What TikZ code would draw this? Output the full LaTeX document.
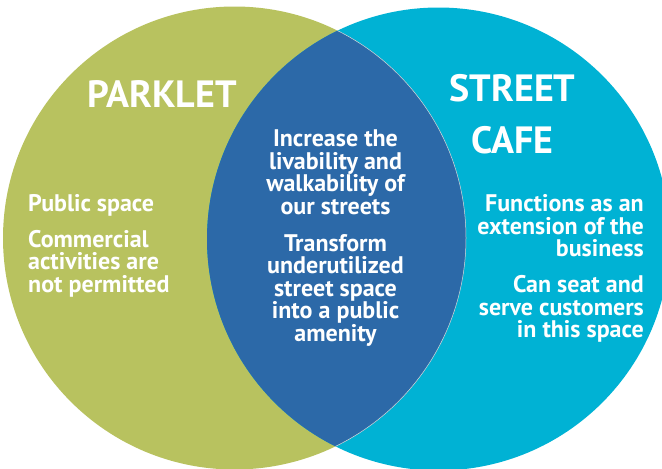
\documentclass[tikz,border=0pt]{standalone}
\usepackage{fontspec}
\setmainfont{PT Sans}
\definecolor{parkgreen}{HTML}{B8C25F}
\definecolor{cafecyan}{HTML}{00B2D4}
\definecolor{sharedblue}{HTML}{2C69A8}
\newcommand\tightlines{\lineskiplimit=-100pt\relax}
\begin{document}
\begin{tikzpicture}[x=1pt, y=-1pt, text=white, inner sep=0pt,
    settitle/.style={font=\fontsize{38}{52}\selectfont\bfseries\tightlines, align=center},
    setbody/.style={font=\fontsize{24}{22.5}\selectfont\bfseries\tightlines}]
  \useasboundingbox (0,0) rectangle (662,469);
  % the two sets
  \fill[parkgreen] (234.5,238) circle (231.5);
  \fill[cafecyan] (438.5,239) circle (231.5);
  % overlap
  \begin{scope}
    \clip (234.5,238) circle (231.5);
    \fill[sharedblue] (438.5,239) circle (231.5);
  \end{scope}
  \begin{scope}
    \clip (438.5,239) circle (231.5);
    \draw[white!70!gray, line width=0.5pt] (234.5,238) circle (231.5);
  \end{scope}
  % titles
  \node[settitle, anchor=north] (parklet) at (162,80.5) {PARKLET};
  \node[settitle, anchor=north] (streetcafe) at (512.5,74.5) {STREET\\CAFE};
  % texts
  \node[setbody, align=left, anchor=north west] (parkletnotes) at (28,194.5)
    {Public space\\[13pt]Commercial\\activities are\\not permitted};
  \node[setbody, align=center, anchor=north] (sharednotes) at (335.5,129.5)
    {Increase the\\livability and\\walkability of\\our streets\\[14.5pt]Transform\\underutilized\\street space\\into a public\\amenity};
  \node[setbody, align=right, anchor=north east] (cafenotes) at (644,194.5)
    {Functions as an\\extension of the\\business\\[13.5pt]Can seat and\\serve customers\\in this space};
\end{tikzpicture}
\end{document}
